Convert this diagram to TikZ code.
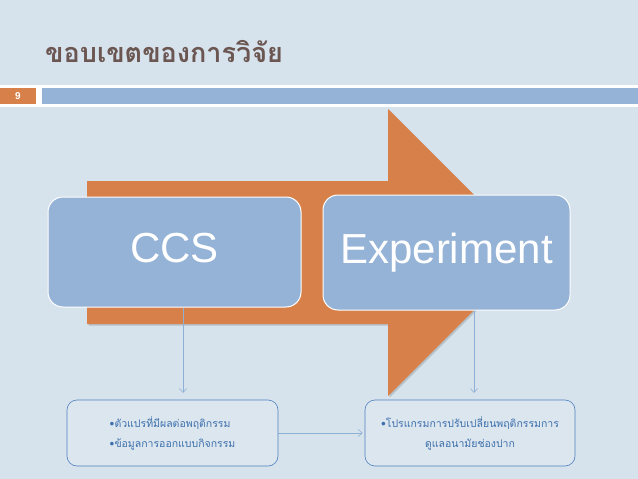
\documentclass[tikz,border=0pt]{standalone}
\usepackage{fontspec}
\setmainfont{Liberation Sans}
\newfontfamily\thaifont[Script=Thai]{Loma}
\usetikzlibrary{arrows.meta}
\definecolor{slidebg}{HTML}{D6E2EC}
\definecolor{boxblue}{HTML}{95B3D7}
\definecolor{arroworange}{HTML}{D7804A}
\definecolor{titlegrey}{HTML}{6B5651}
\definecolor{linkblue}{HTML}{8EB0D4}
\definecolor{textblue}{HTML}{3C6FAB}
\definecolor{framblue}{HTML}{4F81BD}

\begin{document}
\begin{tikzpicture}[x=1pt, y=-1pt,
                stage/.style={draw=white, line width=1pt, fill=boxblue, rounded corners=15pt,
                    text=white, font=\fontsize{42}{42}\selectfont,
                    text height=30pt, text depth=9pt, inner sep=0pt},
                detail/.style={draw=framblue, line width=0.6pt, fill=slidebg!85!white, rounded corners=10pt,
                    text=textblue, font=\thaifont\fontsize{10.5}{20}\selectfont,
                    minimum width=211pt, minimum height=66pt, inner sep=0pt},
                link/.style={draw=linkblue, line width=0.6pt, -{Straight Barb[length=4pt, width=7pt]}}]
                \useasboundingbox (0,0) rectangle (638,479);
                \fill[slidebg] (0,0) rectangle (638,479);
                \fill[white] (0,85) rectangle (638,107);
                \fill[arroworange] (0,88) rectangle (36,104);
                \fill[boxblue] (42,88) rectangle (638,104);
                \node[text=white, font=\bfseries\fontsize{10}{10}\selectfont] (page) at (18,96) {9};
                \node[anchor=base west, text=titlegrey, font=\thaifont\bfseries\fontsize{27}{27}\selectfont, inner sep=0pt]
                    (title) at (45,62) {ขอบเขตของการวิจัย};
                \fill[black, opacity=0.15] (88.5,182.5) -- (389.5,182.5) -- (389.5,110.5) -- (533,254) -- (389.5,397.5)
                    -- (389.5,325.5) -- (88.5,325.5) -- cycle;
                \fill[arroworange] (87,181) -- (388,181) -- (388,109) -- (531.5,252.5) -- (388,396)
                    -- (388,324) -- (87,324) -- cycle;
                \node[stage, minimum width=253pt, minimum height=110pt] (ccs) at (174.5,252) {CCS};
                \node[stage, minimum width=247pt, minimum height=115pt] (expt) at (446.5,252.5) {Experiment};
                \node[detail, align=left] (vars) at (172.5,433) {•ตัวแปรที่มีผลต่อพฤติกรรม\\•ข้อมูลการออกแบบกิจกรรม};
                \node[detail, align=center, minimum width=210pt] (prog) at (470,433)
                    {•โปรแกรมการปรับเปลี่ยนพฤติกรรมการ\\ดูแลอนามัยช่องปาก};
                \coordinate (ccsend) at (183,393);
                \coordinate (exptend) at (474,393);
                \draw[link] (ccs.south -| ccsend) -- (ccsend);
                \draw[link] (expt.south -| exptend) -- (exptend);
                \draw[link] (vars.east) -- ([xshift=-2pt]prog.west);
            \end{tikzpicture}
\end{document}
